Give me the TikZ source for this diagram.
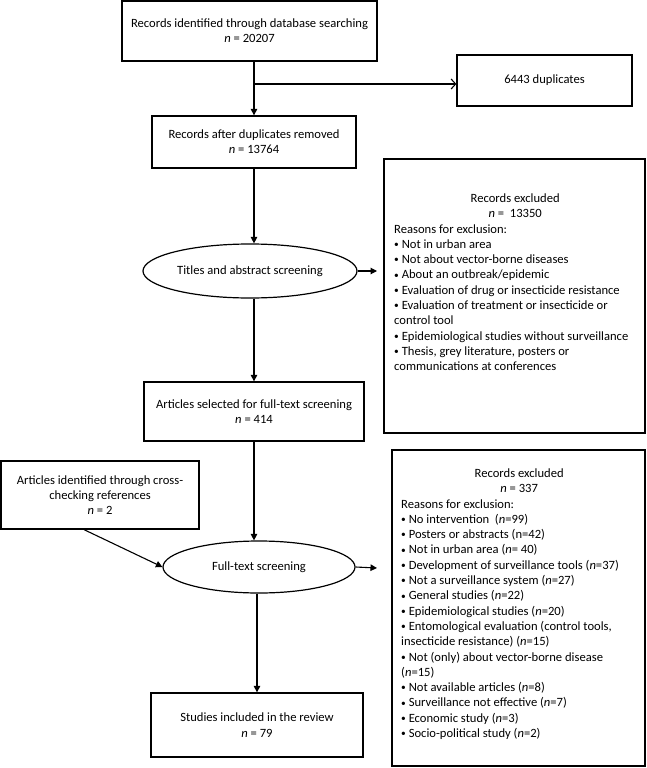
\documentclass[tikz,border=0pt]{standalone}
\usepackage{fontspec}
\usepackage{graphicx}
\setmainfont{Carlito}
\usetikzlibrary{arrows.meta,shapes.geometric,calc}
\newcommand{\bul}{\raisebox{.12ex}{\scalebox{.75}{•}}}
\tikzset{
  box/.style={draw, line width=1.3pt, rectangle, inner sep=0pt, align=center},
  oval/.style={draw, line width=1.2pt, ellipse, inner sep=0pt, align=center},
  extext/.style={inner sep=0pt, align=left, anchor=north west},
  arr/.style={line width=1.1pt, -{Triangle[length=6.5pt,width=6.5pt]}},
  openarr/.style={line width=1.1pt, -{Straight Barb[length=4.5pt,width=10pt]}},
  plain/.style={line width=1.1pt}
}
\begin{document}
\begin{tikzpicture}[x=1pt, y=-1pt, font=\fontsize{12.6}{15.3}\selectfont]
\useasboundingbox (0,0) rectangle (647,768);
% main flow
\node[box, minimum width=255pt, minimum height=60pt] (b1) at (249.5,31)
  {Records identified through database searching\\ \textit{n} = 20207};
\node[box, minimum width=175pt, minimum height=51pt] (dup) at (544.5,80.5)
  {6443 duplicates};
\node[box, minimum width=204pt, minimum height=52pt] (b2) at (254,142)
  {Records after duplicates removed\\ \textit{n} = 13764};
\node[oval, minimum width=214pt, minimum height=54pt] (e1) at (250,271)
  {Titles and abstract screening};
\node[box, minimum width=220pt, minimum height=59pt] (b3) at (254,411.5)
  {Articles selected for full-text screening\\ \textit{n} = 414};
\node[box, minimum width=198pt, minimum height=68pt] (cross) at (100,495)
  {Articles identified through cross-\\ checking references\\ \textit{n} = 2};
\node[oval, minimum width=192pt, minimum height=52pt] (e2) at (259,567)
  {Full-text screening};
\node[box, minimum width=212pt, minimum height=64pt] (b4) at (257,725)
  {Studies included in the review\\ \textit{n} = 79};
% exclusion boxes
\node[box, minimum width=261pt, minimum height=274pt] (x1) at (514.5,296) {};
\node[extext] (x1t) at (394,193.5)
  {\makebox[242pt]{Records excluded}\\
   \makebox[242pt]{\textit{n} =\ \ 13350}\\
   Reasons for exclusion:\\
   \bul{} Not in urban area\\
   \bul{} Not about vector-borne diseases\\
   \bul{} About an outbreak/epidemic\\
   \bul{} Evaluation of drug or insecticide resistance\\
   \bul{} Evaluation of treatment or insecticide or\\
   control tool\\
   \bul{} Epidemiological studies without surveillance\\
   \bul{} Thesis, grey literature, posters or\\
   communications at conferences};
\node[box, minimum width=253pt, minimum height=316pt] (x2) at (518.5,608) {};
\node[extext] (x2t) at (401,468.5)
  {\makebox[236pt]{Records excluded}\\
   \makebox[236pt]{\textit{n} = 337}\\
   Reasons for exclusion:\\
   \bul{} No intervention\ \ (\textit{n}=99)\\
   \bul{} Posters or abstracts (n=42)\\
   \bul{} Not in urban area (\textit{n}= 40)\\
   \bul{} Development of surveillance tools (\textit{n}=37)\\
   \bul{} Not a surveillance system (\textit{n}=27)\\
   \bul{} General studies (\textit{n}=22)\\
   \bul{} Epidemiological studies (\textit{n}=20)\\
   \bul{} Entomological evaluation (control tools,\\
   insecticide resistance) (\textit{n}=15)\\
   \bul{} Not (only) about vector-borne disease\\
   (\textit{n}=15)\\
   \bul{} Not available articles (\textit{n}=8)\\
   \bul{} Surveillance not effective (\textit{n}=7)\\
   \bul{} Economic study (\textit{n}=3)\\
   \bul{} Socio-political study (\textit{n}=2)};
% connectors
\coordinate (br) at (254,84);
\coordinate (t1) at (377,271);
\coordinate (t2) at (377,568);
\coordinate (cs) at ($(cross.south west)!0.42!(cross.south east)$);
\draw[arr] (b1.south -| b2.north) -- (b2.north);
\draw[openarr] (br) -- (br -| dup.west);
\draw[arr] (b2.south) -- (b2.south |- e1.north);
\draw[arr] (e1.east) -- (t1);
\draw[arr] (b3.north |- e1.south) -- (b3.north);
\draw[arr] (b3.south) -- (b3.south |- e2.north);
\draw[arr] (cs) -- (e2.west);
\draw[arr] (e2.east) -- (t2);
\draw[arr] (b4.north |- e2.south) -- (b4.north);
\end{tikzpicture}
\end{document}
